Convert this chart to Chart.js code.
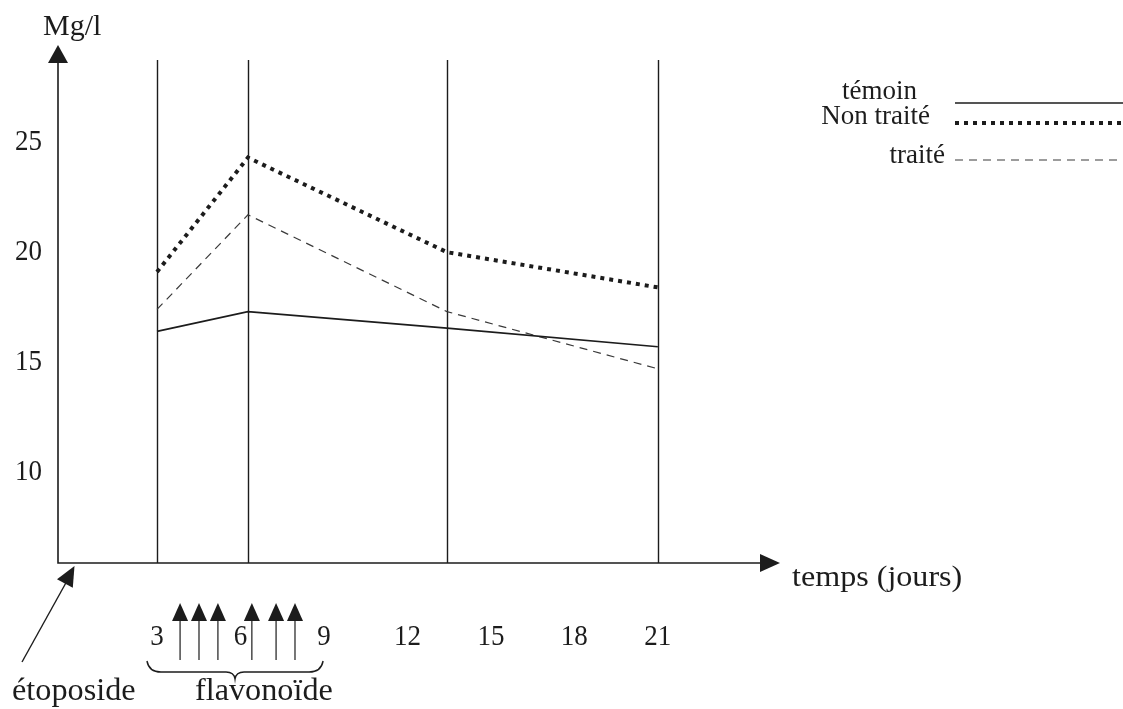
<!DOCTYPE html>
<html><head><meta charset="utf-8">
<script src="https://cdn.jsdelivr.net/npm/chart.js@4/dist/chart.umd.min.js"></script>
<style>html,body{margin:0;padding:0;background:#fff;}canvas{display:block;}</style>
</head><body>
<canvas id="c" width="1123" height="709"></canvas>
<script>
// Measurement days (days after the étoposide dose) and serum levels in Mg/l
const days = [3, 6.27, 13.42, 21];
const temoin = [16.3, 17.2, 16.45, 15.6];
const nonTraite = [19.0, 24.2, 19.9, 18.3];
const traite = [17.3, 21.6, 17.2, 14.6];
// Flavonoïde doses and the period they cover
const flavonoidDays = [3.83, 4.51, 5.19, 6.41, 7.28, 7.96];
const flavonoidSpan = [2.64, 8.97];
const xTicks = [3, 6, 9, 12, 15, 18, 21];
const yTicks = [10, 15, 20, 25];
const seriesNames = ['témoin', 'Non traité', 'traité'];

const INK = '#1c1c1c';
const SERIF = '"Liberation Serif", "Times New Roman", serif';

function pts(vals) { return vals.map((v, i) => ({ x: days[i], y: v })); }

function text(ctx, s, x, y, size, align, sx) {
  ctx.save();
  ctx.font = size + 'px ' + SERIF;
  ctx.fillStyle = INK;
  ctx.textBaseline = 'alphabetic';
  ctx.textAlign = align || 'left';
  ctx.translate(x, y);
  ctx.scale(sx || 1, 1);
  ctx.fillText(s, 0, 0);
  ctx.restore();
}

function arrowHead(ctx, tx, ty, angle, len, half) {
  ctx.save();
  ctx.translate(tx, ty);
  ctx.rotate(angle);
  ctx.beginPath();
  ctx.moveTo(0, 0);
  ctx.lineTo(-len, -half);
  ctx.lineTo(-len, half);
  ctx.closePath();
  ctx.fillStyle = INK;
  ctx.fill();
  ctx.restore();
}

const schematic = {
  id: 'schematic',
  beforeDatasetsDraw(chart) {
    const { ctx, chartArea: a, scales: { x } } = chart;
    ctx.save();
    ctx.strokeStyle = INK;
    ctx.lineWidth = 1.4;
    // vertical guides at the measurement days
    days.forEach(d => {
      const px = Math.round(x.getPixelForValue(d)) + 0.5;
      ctx.beginPath(); ctx.moveTo(px, a.top); ctx.lineTo(px, a.bottom); ctx.stroke();
    });
    // axes
    ctx.lineWidth = 1.6;
    ctx.beginPath();
    ctx.moveTo(a.left, a.top + 3); ctx.lineTo(a.left, a.bottom);
    ctx.lineTo(a.right - 12, a.bottom);
    ctx.stroke();
    ctx.restore();
    arrowHead(ctx, a.left, a.top - 15, -Math.PI / 2, 18, 10);
    arrowHead(ctx, a.right, a.bottom, 0, 20, 9);
  },
  afterDatasetsDraw(chart) {
    const { ctx, chartArea: a, scales: { x, y } } = chart;
    // tick labels
    yTicks.forEach(t => text(ctx, String(t), 42, y.getPixelForValue(t) + 10, 30, 'right', 0.9));
    xTicks.forEach(t => text(ctx, String(t), x.getPixelForValue(t), 645, 30, 'center', 0.9));
    text(ctx, 'Mg/l', 43, 35, 30, 'left');
    text(ctx, 'temps (jours)', 792, 586, 30, 'left', 1.07);

    // legend
    const ds = chart.data.datasets;
    const rows = [
      { label: seriesNames[0], tx: 917, ty: 99, ly: 103, x0: 955 },
      { label: seriesNames[1], tx: 930, ty: 124, ly: 123, x0: 955 },
      { label: seriesNames[2], tx: 945, ty: 163, ly: 160, x0: 955 }
    ];
    rows.forEach((r, i) => {
      text(ctx, r.label, r.tx, r.ty, 27, 'right');
      ctx.save();
      ctx.strokeStyle = ds[i].borderColor;
      ctx.lineWidth = ds[i].borderWidth;
      ctx.setLineDash(ds[i].borderDash || []);
      ctx.beginPath(); ctx.moveTo(r.x0, r.ly); ctx.lineTo(1123, r.ly); ctx.stroke();
      ctx.restore();
    });

    // flavonoïde doses
    ctx.save();
    ctx.strokeStyle = INK;
    ctx.lineWidth = 1.2;
    flavonoidDays.forEach(d => {
      const px = x.getPixelForValue(d);
      ctx.beginPath(); ctx.moveTo(px, 618); ctx.lineTo(px, 660); ctx.stroke();
      arrowHead(ctx, px, 603, -Math.PI / 2, 18, 8);
    });
    // brace under the dosing period
    const b0 = x.getPixelForValue(flavonoidSpan[0]);
    const b1 = x.getPixelForValue(flavonoidSpan[1]);
    const bm = (b0 + b1) / 2;
    ctx.lineWidth = 1.4;
    ctx.beginPath();
    ctx.moveTo(b0, 661);
    ctx.quadraticCurveTo(b0 + 2, 672, b0 + 14, 672);
    ctx.lineTo(bm - 9, 672);
    ctx.quadraticCurveTo(bm - 1, 672, bm, 679);
    ctx.quadraticCurveTo(bm + 1, 672, bm + 9, 672);
    ctx.lineTo(b1 - 14, 672);
    ctx.quadraticCurveTo(b1 - 2, 672, b1, 661);
    ctx.stroke();
    // étoposide pointer at day 0
    const ox = x.getPixelForValue(0), oy = a.bottom + 3;
    const sx = 22, sy = 662;
    ctx.beginPath(); ctx.moveTo(sx, sy); ctx.lineTo(ox - 6, oy + 14); ctx.stroke();
    ctx.restore();
    arrowHead(ctx, ox + 1, oy, Math.atan2(oy - sy, ox + 1 - sx), 20, 9);
    text(ctx, 'étoposide', 12, 700, 31, 'left', 1.04);
    text(ctx, 'flavonoïde', 195, 700, 31, 'left', 1.04);
  }
};

new Chart(document.getElementById('c'), {
  type: 'line',
  data: {
    datasets: [
      { label: seriesNames[0], data: pts(temoin), borderColor: INK, borderWidth: 1.6, pointRadius: 0, tension: 0 },
      { label: seriesNames[1], data: pts(nonTraite), borderColor: INK, borderWidth: 4, borderDash: [4, 5], pointRadius: 0, tension: 0 },
      { label: seriesNames[2], data: pts(traite), borderColor: '#3a3a3a', borderWidth: 1.2, borderDash: [8, 6], pointRadius: 0, tension: 0 }
    ]
  },
  options: {
    responsive: false,
    animation: false,
    devicePixelRatio: 1,
    layout: { padding: { left: 58, top: 60, right: 343, bottom: 146 } },
    plugins: { legend: { display: false }, tooltip: { enabled: false } },
    scales: {
      x: { type: 'linear', min: -0.557, max: 25.39, display: false },
      y: { type: 'linear', min: 5.773, max: 28.636, display: false }
    }
  },
  plugins: [schematic]
});
</script>
</body></html>
